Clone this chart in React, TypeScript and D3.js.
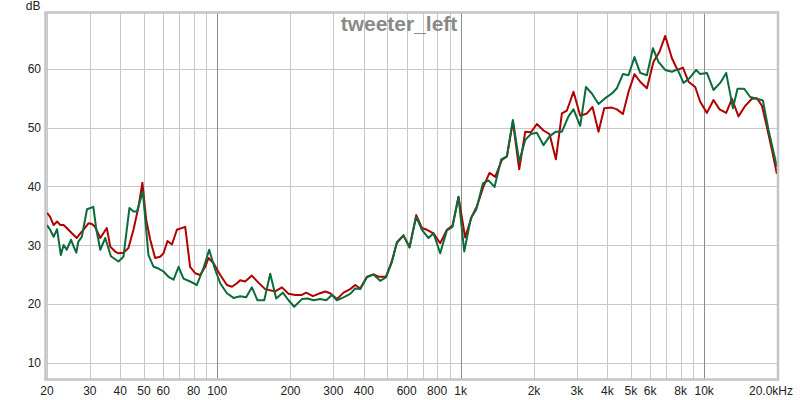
import React from "react";
import * as d3 from "d3";

const redFreq = [20.0,20.6,21.3,22.0,22.7,23.4,24.1,25.3,26.5,27.4,28.2,29.6,30.6,31.5,33.1,35.2,36.4,38.1,39.3,41.2,43.2,45.3,47.5,49.3,51.1,53.1,55.6,58.3,60.2,62.5,65.2,68.3,73.9,77.4,81.2,85.1,89.3,92.1,96.6,102.9,109.6,114.9,120.5,124.3,130.3,138.8,147.7,157.4,173.0,184.4,196.3,209.1,222.8,232.0,247.2,260.6,277.7,291.1,310.1,330.2,351.8,368.8,386.7,412.0,438.5,459.7,493.0,521.9,547.0,582.2,616.2,656.6,693.0,726.5,773.3,823.8,877.6,925.4,979.5,1043,1112,1166,1241,1313,1386,1477,1548,1638,1739,1841,1943,2056,2188,2316,2460,2604,2730,2906,3096,3299,3478,3681,3885,4178,4381,4637,4889,5173,5460,5817,6192,6553,6916,7370,7770,8177,8621,9184,9630,10260,10920,11560,12310,13000,13830,14740,15700,16460,17260,18090,18970,19890];
const redDb = [35.5,34.8,33.4,34.0,33.4,33.4,32.9,32.0,31.2,32.0,32.6,33.7,33.6,33.1,31.2,32.9,29.7,28.9,28.6,28.7,29.5,32.6,36.5,40.6,34.3,30.9,27.8,28.0,28.6,30.7,30.1,32.6,33.1,26.3,25.2,24.9,26.3,27.8,26.9,24.9,23.2,22.9,23.5,24.0,23.8,24.8,23.6,22.5,22.1,22.8,21.7,21.5,21.5,21.9,21.3,21.7,22.1,21.8,20.8,21.9,22.5,23.2,22.6,24.6,25.0,24.6,24.6,27.3,30.4,31.6,29.6,35.1,32.9,32.6,32.0,30.3,32.6,33.3,38.2,31.3,34.9,36.6,40.0,42.3,41.6,44.5,45.1,51.0,42.9,49.3,49.2,50.6,49.5,48.9,44.6,52.4,52.9,56.1,52.0,52.4,53.5,49.3,53.3,53.4,53.1,52.3,56.1,59.1,57.8,56.7,61.2,62.9,65.6,61.8,59.8,60.2,57.8,56.9,54.4,52.5,54.7,53.1,52.5,54.9,51.9,53.7,54.9,55.0,53.7,50.1,46.2,42.1];

const greenFreq = [20.0,20.6,21.3,22.0,22.8,23.4,24.1,25.1,25.7,26.4,26.9,27.8,29.2,31.0,31.9,33.1,34.7,36.6,39.3,41.2,43.6,45.3,46.8,49.5,52.2,54.8,57.4,60.2,63.1,66.2,69.4,72.7,77.4,82.5,87.9,92.7,98.1,102.9,109.6,116.7,124.3,131.5,138.8,146.4,156.0,165.1,174.7,186.1,196.3,207.1,222.8,234.9,248.6,264.9,280.4,295.8,310.1,330.2,351.8,368.8,386.7,412.0,438.5,467.2,493.0,521.9,547.0,582.2,616.2,656.6,693.0,737.6,773.3,823.8,877.6,925.4,979.5,1034,1101,1158,1234,1301,1377,1467,1548,1638,1739,1841,1943,2056,2188,2316,2460,2604,2771,2906,3096,3268,3457,3681,3922,4178,4381,4637,4889,5173,5460,5817,6157,6491,6916,7370,7770,8222,8703,9271,9630,10260,10920,11630,12310,13120,13700,14600,15450,16460,17420,18370,19890];
const greenDb = [33.4,32.6,31.4,32.7,28.3,30.0,29.2,30.9,29.8,28.7,30.6,31.4,36.1,36.5,32.6,29.2,31.2,28.1,27.2,28.0,36.3,35.7,35.7,39.1,28.3,26.3,26.0,25.5,24.6,24.1,26.3,24.3,23.8,23.2,26.1,29.2,25.8,23.5,21.8,21.0,21.3,21.1,22.8,20.6,20.6,25.1,20.9,21.9,20.6,19.5,20.8,20.9,20.6,20.8,20.6,21.5,20.6,21.1,21.7,22.6,22.5,24.5,25.0,23.9,24.5,27.1,30.5,31.7,29.6,34.8,32.6,31.2,32.0,28.6,32.5,33.1,38.2,28.9,34.6,36.0,40.5,41.0,39.9,44.6,45.1,51.3,44.2,47.9,48.9,49.1,47.0,48.5,49.3,49.3,51.9,53.1,50.3,56.9,55.8,54.0,55.0,55.8,56.7,59.1,58.9,62.0,59.3,58.9,63.5,61.2,59.8,59.5,59.9,57.6,58.4,59.8,59.1,59.3,56.4,57.6,59.3,53.3,56.6,56.6,55.2,54.9,54.6,49.6,43.3];

const yTicks = [10, 20, 30, 40, 50, 60];
const xGrid = [20,30,40,50,60,70,80,90,100,200,300,400,500,600,700,800,900,1000,2000,3000,4000,5000,6000,7000,8000,9000,10000,20000];
const xMajor = [100, 1000, 10000];
const xLabelVals = [20,30,40,50,60,80,100,200,300,400,600,800,1000,2000,3000,4000,5000,6000,8000,10000];
const xLabelText = ["20","30","40","50","60","80","100","200","300","400","600","800","1k","2k","3k","4k","5k","6k","8k","10k"];
const title = "tweeter_left";
const yUnit = "dB";
const lastXLabel = "20.0kHz";

const W = 800, H = 400;
const L = 46.5, T = 13, R = 777.5, B = 379;

export default function App() {
  const x = d3.scaleLog().domain([20, 20000]).range([47, 777.5]);
  const y = d3.scaleLinear().domain([7.2, 69.5]).range([B, T]);
  const line = d3.line<[number, number]>().x(d => x(d[0])).y(d => y(d[1]));
  const redPts = redFreq.map((f, i) => [f, redDb[i]] as [number, number]);
  const greenPts = greenFreq.map((f, i) => [f, greenDb[i]] as [number, number]);
  const font = "Arial, 'Liberation Sans', sans-serif";
  return (
    <div style={{ position: "absolute", left: 0, top: 0, width: W, height: H, background: "#fff" }}>
      <svg width={W} height={H} style={{ display: "block" }} fontFamily={font}>
        <defs>
          <clipPath id="plotclip">
            <rect x={L} y={T} width={R - L} height={B - T} />
          </clipPath>
        </defs>
        <rect x={0} y={0} width={W} height={H} fill="#fff" />
        {yTicks.map(v => (
          <line key={"h" + v} x1={L} x2={R} y1={Math.round(y(v)) + 0.5} y2={Math.round(y(v)) + 0.5} stroke="#c8c8c8" strokeWidth={1} />
        ))}
        {xGrid.map(v => (
          <line key={"v" + v} x1={Math.round(x(v)) + 0.5} x2={Math.round(x(v)) + 0.5} y1={T} y2={B}
            stroke={xMajor.includes(v) ? "#8c8c8c" : "#c8c8c8"} strokeWidth={1} />
        ))}
        <text x={399} y={30.5} textAnchor="middle" fontSize={21} fontWeight="bold" fill="#8a8a8a">{title}</text>
        <g clipPath="url(#plotclip)">
          <path d={line(redPts) || ""} fill="none" stroke="#b10000" strokeWidth={2} strokeLinejoin="round" />
          <path d={line(greenPts) || ""} fill="none" stroke="#0b6b3a" strokeWidth={2} strokeLinejoin="round" />
        </g>
        <rect x={L - 1} y={T - 0.5} width={R - L + 1.5} height={B - T + 1} fill="none" stroke="#c4c4c4" strokeWidth={2.5} />
        {yTicks.map(v => (
          <text key={"yl" + v} x={41} y={y(v) + 4.5} textAnchor="end" fontSize={12} fill="#222">{v}</text>
        ))}
        <text x={40.5} y={10} textAnchor="end" fontSize={12} fill="#222">{yUnit}</text>
        {xLabelVals.map((v, i) => (
          <text key={"xl" + v} x={x(v)} y={395} textAnchor="middle" fontSize={12} fill="#222">{xLabelText[i]}</text>
        ))}
        <text x={793} y={395} textAnchor="end" fontSize={12} fill="#222">{lastXLabel}</text>
      </svg>
    </div>
  );
}
